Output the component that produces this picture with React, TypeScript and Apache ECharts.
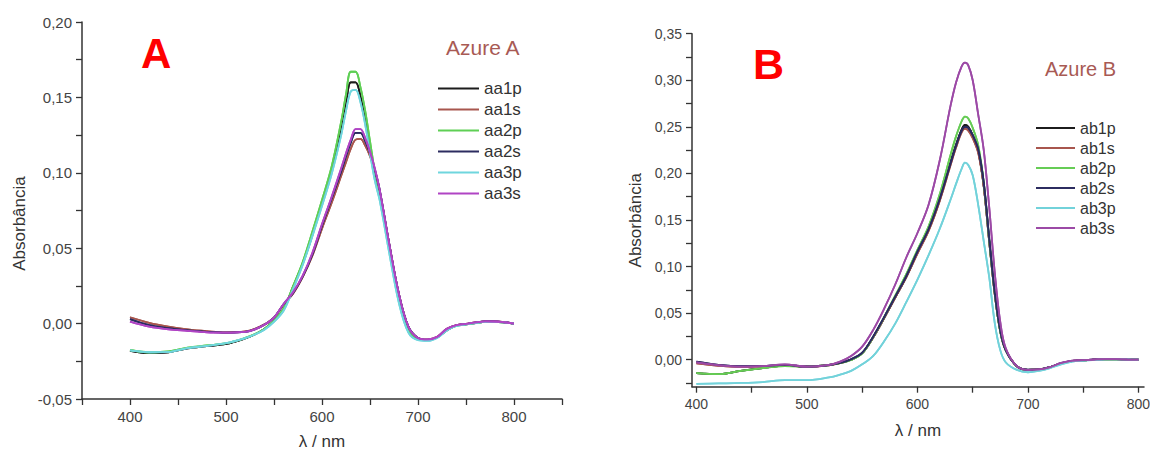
import React, { useEffect, useRef } from "react";
import * as echarts from "echarts";

// ---------- Data ----------
const WL_A = [400, 420, 440, 460, 480, 500, 520, 530, 540, 550, 560, 570, 580, 590, 600, 610, 620, 625, 630, 635, 640, 645, 650, 655, 660, 670, 680, 690, 700, 710, 720, 730, 740, 750, 760, 770, 780, 790, 800];

const aa1p = [-0.018, -0.0195, -0.019, -0.0165, -0.015, -0.0135, -0.0098, -0.0072, -0.0036, 0.0018, 0.0095, 0.0245, 0.040, 0.059, 0.080, 0.101, 0.129, 0.146, 0.160, 0.160, 0.151, 0.136, 0.117, 0.099, 0.086, 0.051, 0.018, -0.004, -0.0102, -0.011, -0.0092, -0.0045, -0.0012, -0.0005, 0.0004, 0.0012, 0.0012, 0.0008, 0];
const aa1s = [0.0042, 0.0005, -0.002, -0.0038, -0.005, -0.0058, -0.0052, -0.0035, -0.0005, 0.004, 0.0125, 0.020, 0.031, 0.045, 0.063, 0.080, 0.098, 0.107, 0.116, 0.122, 0.1225, 0.118, 0.111, 0.101, 0.088, 0.053, 0.020, -0.002, -0.0095, -0.0105, -0.0088, -0.0035, -0.001, -0.0002, 0.0008, 0.0015, 0.0014, 0.0009, 0];
const aa2p = [-0.0175, -0.019, -0.0185, -0.016, -0.0145, -0.013, -0.0095, -0.007, -0.0035, 0.002, 0.010, 0.025, 0.041, 0.061, 0.082, 0.104, 0.134, 0.152, 0.167, 0.167, 0.157, 0.141, 0.121, 0.101, 0.086, 0.051, 0.018, -0.004, -0.010, -0.0108, -0.009, -0.004, -0.0015, -0.0005, 0.0005, 0.0012, 0.0012, 0.0008, 0];
const aa2s = [0.003, -0.001, -0.003, -0.0045, -0.0055, -0.006, -0.0055, -0.0038, -0.0008, 0.004, 0.0128, 0.0205, 0.0315, 0.046, 0.065, 0.083, 0.101, 0.111, 0.120, 0.1265, 0.1265, 0.121, 0.113, 0.102, 0.089, 0.053, 0.020, -0.002, -0.0095, -0.0108, -0.009, -0.0038, -0.0012, -0.0003, 0.0007, 0.0014, 0.0014, 0.0009, 0];
const aa3p = [-0.0178, -0.019, -0.0188, -0.0162, -0.0148, -0.013, -0.0096, -0.0072, -0.004, 0.0012, 0.0085, 0.023, 0.039, 0.058, 0.078, 0.099, 0.125, 0.141, 0.154, 0.155, 0.147, 0.132, 0.113, 0.095, 0.082, 0.047, 0.014, -0.006, -0.011, -0.0115, -0.0095, -0.0045, -0.0015, -0.0005, 0.0004, 0.0012, 0.0012, 0.0008, 0];
const aa3s = [0.0013, -0.002, -0.0038, -0.0048, -0.0058, -0.006, -0.0055, -0.0038, -0.0008, 0.004, 0.013, 0.021, 0.032, 0.047, 0.066, 0.084, 0.103, 0.113, 0.122, 0.129, 0.129, 0.123, 0.114, 0.103, 0.089, 0.053, 0.020, -0.002, -0.0095, -0.0105, -0.0088, -0.0035, -0.001, -0.0002, 0.0008, 0.0015, 0.0014, 0.0009, 0];

const WL_B = [400, 420, 440, 460, 480, 500, 520, 530, 540, 550, 560, 570, 580, 590, 600, 610, 620, 630, 635, 640, 643, 646, 650, 655, 660, 665, 670, 675, 680, 690, 700, 710, 720, 730, 740, 750, 760, 770, 780, 790, 800];

const ab1p = [-0.0145, -0.0155, -0.012, -0.009, -0.0065, -0.0072, -0.0055, -0.0035, 0.0, 0.007, 0.024, 0.045, 0.067, 0.089, 0.115, 0.139, 0.171, 0.212, 0.231, 0.247, 0.252, 0.250, 0.241, 0.224, 0.186, 0.126, 0.070, 0.030, 0.010, -0.007, -0.011, -0.0105, -0.008, -0.004, -0.0015, -0.0008, 0.0, 0.0005, 0.0004, 0.0002, 0];
const ab1s = [-0.004, -0.0065, -0.0078, -0.0072, -0.006, -0.0078, -0.006, -0.0038, 0.0, 0.007, 0.024, 0.045, 0.067, 0.089, 0.114, 0.138, 0.170, 0.209, 0.228, 0.244, 0.248, 0.246, 0.238, 0.222, 0.186, 0.127, 0.070, 0.030, 0.010, -0.007, -0.011, -0.0105, -0.008, -0.004, -0.0014, -0.0007, 0.0001, 0.0005, 0.0004, 0.0002, 0];
const ab2p = [-0.0145, -0.0155, -0.012, -0.009, -0.0068, -0.0075, -0.0058, -0.0038, -0.0003, 0.0068, 0.0245, 0.046, 0.069, 0.092, 0.118, 0.143, 0.177, 0.220, 0.240, 0.256, 0.261, 0.259, 0.249, 0.230, 0.190, 0.128, 0.071, 0.030, 0.010, -0.007, -0.011, -0.0105, -0.008, -0.004, -0.0015, -0.0008, 0.0, 0.0005, 0.0004, 0.0002, 0];
const ab2s = [-0.002, -0.0055, -0.007, -0.0068, -0.0055, -0.0075, -0.0058, -0.0035, 0.0005, 0.0075, 0.025, 0.046, 0.068, 0.090, 0.116, 0.140, 0.172, 0.211, 0.230, 0.246, 0.250, 0.249, 0.241, 0.226, 0.190, 0.130, 0.072, 0.031, 0.010, -0.007, -0.0108, -0.0105, -0.008, -0.0038, -0.0012, -0.0006, 0.0002, 0.0006, 0.0005, 0.0002, 0];
const ab3p = [-0.026, -0.0255, -0.025, -0.024, -0.022, -0.022, -0.019, -0.016, -0.012, -0.005, 0.004, 0.020, 0.039, 0.062, 0.086, 0.112, 0.140, 0.172, 0.189, 0.205, 0.2115, 0.209, 0.198, 0.166, 0.127, 0.088, 0.039, 0.010, -0.003, -0.011, -0.0135, -0.012, -0.009, -0.005, -0.002, -0.001, -0.0003, 0.0003, 0.0003, 0.0002, 0];
const ab3s = [-0.003, -0.006, -0.0075, -0.007, -0.005, -0.0075, -0.0055, -0.002, 0.004, 0.014, 0.032, 0.055, 0.081, 0.110, 0.136, 0.166, 0.213, 0.273, 0.298, 0.315, 0.319, 0.316, 0.300, 0.263, 0.225, 0.163, 0.093, 0.040, 0.012, -0.007, -0.011, -0.0105, -0.008, -0.0035, -0.001, -0.0005, 0.0002, 0.0006, 0.0005, 0.0002, 0];

const NAMES_A = ["aa1p", "aa1s", "aa2p", "aa2s", "aa3p", "aa3s"];
const VALUES_A = [aa1p, aa1s, aa2p, aa2s, aa3p, aa3s];
const COLORS_A = ["#1c1c1c", "#a8564e", "#5fcf55", "#2c2c60", "#6fd6de", "#b044c4"];

const NAMES_B = ["ab1p", "ab1s", "ab2p", "ab2s", "ab3p", "ab3s"];
const VALUES_B = [ab1p, ab1s, ab2p, ab2s, ab3p, ab3s];
const COLORS_B = ["#1c1c1c", "#a8564e", "#66cc55", "#2c2c60", "#72d2da", "#9c4aa6"];

const X_LABELS = [400, 500, 600, 700, 800];
const X_TICKS_A = [350, 400, 450, 500, 550, 600, 650, 700, 750, 800, 850];
const X_TICKS_B = [400, 450, 500, 550, 600, 650, 700, 750, 800];
const Y_LABELS_A = [-0.05, 0, 0.05, 0.1, 0.15, 0.2];
const Y_TICKS_A = [-0.05, -0.025, 0, 0.025, 0.05, 0.075, 0.1, 0.125, 0.15, 0.175, 0.2];
const Y_LABELS_B = [0, 0.05, 0.1, 0.15, 0.2, 0.25, 0.3, 0.35];
const Y_TICKS_B = [-0.025, 0, 0.025, 0.05, 0.075, 0.1, 0.125, 0.15, 0.175, 0.2, 0.225, 0.25, 0.275, 0.3, 0.325, 0.35];

const FONT = "'Liberation Sans', Arial, sans-serif";
const fmt = (v: number) => v.toFixed(2).replace(".", ",");

function axisX(grid: number, min: number, max: number, ticks: number[], fs: number, gap: number) {
  return {
    type: "value",
    gridIndex: grid,
    min,
    max,
    name: "λ / nm",
    nameLocation: "middle",
    nameGap: gap,
    nameTextStyle: { fontSize: 17, color: "#333", fontFamily: FONT },
    axisLine: { show: true, onZero: false, lineStyle: { color: "#333", width: 1.5 } },
    axisTick: { show: true, inside: false, length: 6, customValues: ticks, lineStyle: { color: "#333", width: 1.3 } },
    axisLabel: { customValues: X_LABELS, fontSize: fs, color: "#444", margin: 10, fontFamily: FONT },
    splitLine: { show: false },
  };
}

function axisY(grid: number, min: number, max: number, labels: number[], ticks: number[], fs: number, gap: number, shift: number) {
  return {
    type: "value",
    gridIndex: grid,
    min,
    max,
    name: "Absorbância",
    nameLocation: "middle",
    nameGap: gap,
    nameRotate: 90,
    nameTextStyle: { fontSize: 17, color: "#333", fontFamily: FONT, padding: [0, shift, 0, 0] },
    axisLine: { show: true, onZero: false, lineStyle: { color: "#333", width: 1.5 } },
    axisTick: { show: true, inside: false, length: 6, customValues: ticks, lineStyle: { color: "#333", width: 1.3 } },
    axisLabel: { customValues: labels, fontSize: fs, color: "#444", margin: 10, fontFamily: FONT, formatter: fmt },
    splitLine: { show: false },
  };
}

function makeSeries(names: string[], values: number[][], wl: number[], colors: string[], idx: number) {
  return names.map((n, i) => ({
    name: n,
    type: "line",
    xAxisIndex: idx,
    yAxisIndex: idx,
    data: wl.map((w, j) => [w, values[i][j]]),
    showSymbol: false,
    smooth: 0.35,
    color: colors[i],
    lineStyle: { width: 1.8, color: colors[i], shadowBlur: 1.5, shadowColor: colors[i] },
  }));
}

function legendFor(names: string[], left: number, top: number, w: number, fs: number, gap: number) {
  return {
    data: names,
    orient: "vertical",
    left,
    top,
    padding: 0,
    icon: "rect",
    itemWidth: w,
    itemHeight: 2,
    itemGap: gap,
    selectedMode: false,
    itemStyle: { shadowBlur: 0, borderWidth: 0 },
    textStyle: { fontSize: fs, lineHeight: fs, color: "#333", fontFamily: FONT, padding: [0, 0, 0, 0] },
  };
}

export default function App() {
  const ref = useRef<HTMLDivElement>(null);
  useEffect(() => {
    if (!ref.current) return;
    const chart = echarts.init(ref.current, undefined, { renderer: "svg" });
    const option: any = {
      animation: false,
      backgroundColor: "#ffffff",
      textStyle: { fontFamily: FONT },
      grid: [
        { left: 82, top: 22, width: 480, height: 377, containLabel: false, outerBoundsMode: "none" },
        { left: 692, top: 33.7, width: 452, height: 353, containLabel: false, outerBoundsMode: "none" },
      ],
      xAxis: [axisX(0, 350, 850, X_TICKS_A, 15, 34), axisX(1, 396, 805, X_TICKS_B, 14, 35)],
      yAxis: [
        axisY(0, -0.05, 0.2, Y_LABELS_A, Y_TICKS_A, 15, 54, 26),
        axisY(1, -0.029, 0.35, Y_LABELS_B, Y_TICKS_B, 14, 48, 20),
      ],
      legend: [legendFor(NAMES_A, 438, 80, 41, 17, 4), legendFor(NAMES_B, 1036, 120, 39, 16, 4)],
      graphic: [
        { type: "text", left: 141, top: 32, style: { text: "A", fontSize: 42, fontWeight: "bold", fill: "#ff0000", fontFamily: FONT } },
        { type: "text", left: 753, top: 42, style: { text: "B", fontSize: 43, fontWeight: "bold", fill: "#ff0000", fontFamily: FONT } },
        { type: "text", left: 446, top: 37, style: { text: "Azure A", fontSize: 21, fill: "#a85a54", fontFamily: FONT } },
        { type: "text", left: 1045, top: 59, style: { text: "Azure B", fontSize: 20, fill: "#a85a54", fontFamily: FONT } },
      ],
      series: [
        ...makeSeries(NAMES_A, VALUES_A, WL_A, COLORS_A, 0),
        ...makeSeries(NAMES_B, VALUES_B, WL_B, COLORS_B, 1),
      ],
    };
    chart.setOption(option);
    return () => chart.dispose();
  }, []);
  return <div ref={ref} style={{ position: "fixed", left: 0, top: 0, width: 1150, height: 452, background: "#fff" }} />;
}
